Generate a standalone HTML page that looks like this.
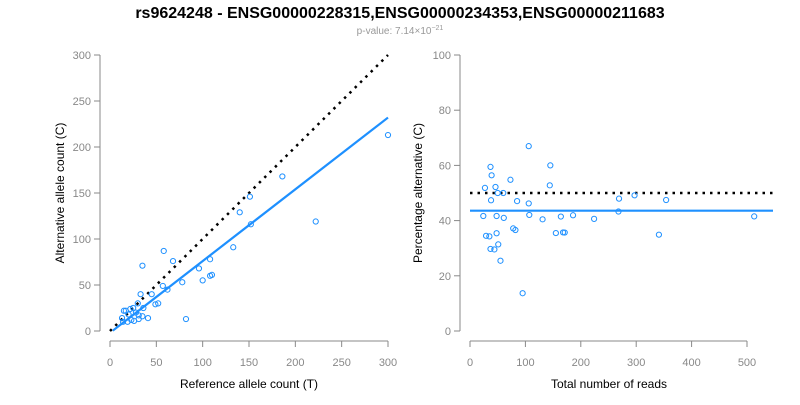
<!DOCTYPE html>
<html><head><meta charset="utf-8"><style>
body{margin:0;background:#fff;font-family:"Liberation Sans",sans-serif}
svg text{font-family:"Liberation Sans",sans-serif}
</style></head><body>
<svg id="c" width="800" height="400" xmlns="http://www.w3.org/2000/svg">
<text x="400" y="18" text-anchor="middle" font-size="16" font-weight="bold">rs9624248 - ENSG00000228315,ENSG00000234353,ENSG00000211683</text>
<text x="400" y="34" text-anchor="middle" font-size="10" fill="#999">p-value: 7.14×10<tspan dy="-4" font-size="7">−21</tspan></text>
<g id="L"></g><g id="R"></g>
</svg>
<script>
const refCounts=[300,222,186,151,140,152,133,58,68,35,108,96,100,108,110,78,57,62,33,45,49,52,30,36,25,22,17,15,31,35,41,31,26,19,13,14,82,20,28,23];
const altCounts=[213,119,168,146,129,116,91,87,76,71,78,68,55,60,61,53,49,45,40,40,29,30,30,25,25,24,22,22,17,16,14,13,11,10,14,10,13,18,20,12];
const fitLeft=[0.78,-2];
const fitRightPct=[43.6];
const xTicksL=[0,50,100,150,200,250,300];
const yTicksL=[0,50,100,150,200,250,300];
const xTicksR=[0,100,200,300,400,500];
const yTicksR=[0,20,40,60,80,100];
const NS="http://www.w3.org/2000/svg";
function mk(p,t,a){const e=document.createElementNS(NS,t);for(const k in a)e.setAttribute(k,a[k]);p.appendChild(e);return e;}
const L=document.getElementById('L'),R=document.getElementById('R');
const xL=v=>110+v*278/300, yL=v=>331-v*276/300;
const xR=v=>470+v*277/500, yR=v=>331-v*2.76;
function axes(g,xs,ys,xt,yt,xa,ya,yx,xtitle,ytitle,ytx){
 let e=mk(g,'line',{x1:xs(xt[0]),x2:xs(xt[xt.length-1]),y1:341,y2:341,stroke:'#888'});
 
 e=mk(g,'line',{x1:yx,x2:yx,y1:ys(yt[0]),y2:ys(yt[yt.length-1]),stroke:'#888'});
 
 xt.forEach(v=>{mk(g,'line',{x1:xs(v),x2:xs(v),y1:341,y2:347,stroke:'#888'});
  const t=mk(g,'text',{x:xs(v),y:366,'text-anchor':'middle','font-size':11,fill:'#888'});t.textContent=v;
  });
 yt.forEach(v=>{mk(g,'line',{x1:yx-6,x2:yx,y1:ys(v),y2:ys(v),stroke:'#888'});
  const t=mk(g,'text',{x:yx-9,y:ys(v)+4,'text-anchor':'end','font-size':11,fill:'#888'});t.textContent=v;
  });
 let t=mk(g,'text',{x:xa,y:388,'text-anchor':'middle','font-size':12});t.textContent=xtitle;
 
 t=mk(g,'text',{x:ytx,y:ya,'text-anchor':'middle','font-size':12,transform:`rotate(-90 ${ytx} ${ya})`});t.textContent=ytitle;
 
}
axes(L,xL,yL,xTicksL,yTicksL,249,193,100,'Reference allele count (T)','Alternative allele count (C)',64);
axes(R,xR,yR,xTicksR,yTicksR,609,193,460,'Total number of reads','Percentage alternative (C)',422);
let e=mk(L,'line',{x1:xL(0),y1:yL(0),x2:xL(300),y2:yL(300),stroke:'#000','stroke-width':2.5,'stroke-dasharray':'2.5 5'});

e=mk(L,'line',{x1:xL(3),y1:yL(3*fitLeft[0]+fitLeft[1]),x2:xL(300),y2:yL(300*fitLeft[0]+fitLeft[1]),stroke:'#1e90ff','stroke-width':2.2});

e=mk(R,'line',{x1:470,y1:yR(50),x2:773,y2:yR(50),stroke:'#000','stroke-width':2.5,'stroke-dasharray':'2.5 5'});

e=mk(R,'line',{x1:470,y1:yR(fitRightPct[0]),x2:773,y2:yR(fitRightPct[0]),stroke:'#1e90ff','stroke-width':2.2});

refCounts.forEach((r,i)=>{const a=altCounts[i];
 let c=mk(L,'circle',{cx:xL(r),cy:yL(a),r:2.6,fill:'none',stroke:'#1e90ff','stroke-width':1});
 
 const tot=r+a;
 c=mk(R,'circle',{cx:xR(tot),cy:yR(100*a/tot),r:2.6,fill:'none',stroke:'#1e90ff','stroke-width':1});
 
});
</script>
</body></html>
